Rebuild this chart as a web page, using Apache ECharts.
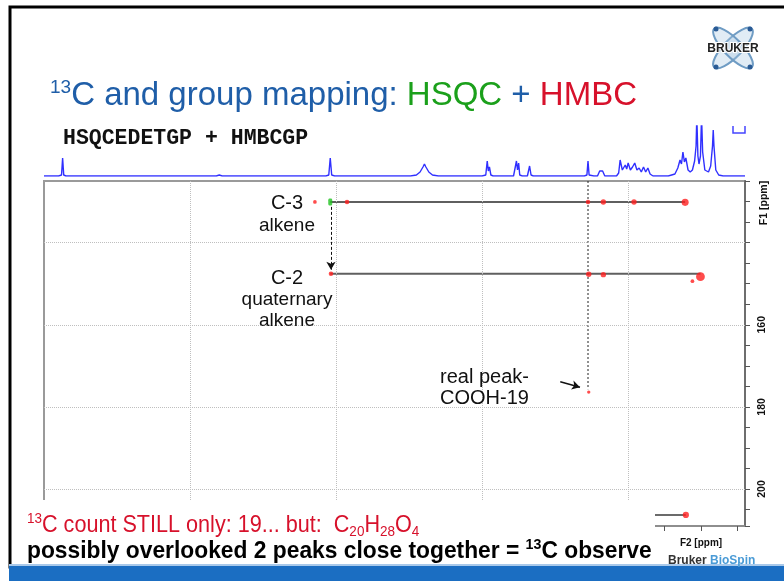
<!DOCTYPE html>
<html>
<head>
<meta charset="utf-8">
<script src="https://cdn.jsdelivr.net/npm/echarts@6/dist/echarts.min.js"></script>
<style>
  html, body { margin: 0; padding: 0; background: #ffffff; }
  #chart { width: 784px; height: 581px; }
</style>
</head>
<body>
<div id="chart"></div>
<script>
// ---- axis ranges and tick values (ppm) ----
const f2Range = [0.4, 10.0];          // 1H dimension
const f1Range = [125, 209];           // 13C dimension
const f2GridLines = [8, 6, 4, 2];
const f1GridLines = [140, 160, 180, 200];
const f1TickLabels = [160, 180, 200];
const f2Ticks = [0.5, 1.0, 1.5, 2.0, 2.5, 3.0, 3.5, 4.0, 4.5, 5.0, 5.5, 6.0, 6.5, 7.0, 7.5, 8.0, 8.5, 9.0, 9.5];

// ---- 1H projection: [ppm, height] ----
const protonTrace = [
  [10.00, 0], [9.80, 0], [9.76, 1], [9.745, 18], [9.73, 1], [9.70, 0],
  [8.60, 0], [7.64, 0], [7.60, 1], [7.56, 0],
  [6.14, 0], [6.10, 1], [6.08, 18], [6.06, 1], [6.02, 0],
  [4.98, 0], [4.90, 1], [4.85, 4], [4.81, 9], [4.79, 12], [4.77, 9], [4.73, 4], [4.68, 1], [4.60, 0],
  [4.00, 0], [3.95, 1], [3.93, 15], [3.915, 5], [3.90, 9], [3.88, 1], [3.85, 0],
  [3.57, 0], [3.545, 1], [3.53, 15], [3.515, 6], [3.50, 13], [3.485, 1], [3.45, 0],
  [3.38, 0], [3.35, 10], [3.33, 1], [3.30, 0],
  [2.60, 0], [2.565, 1], [2.55, 15], [2.535, 1], [2.47, 0],
  [2.42, 0], [2.39, 5], [2.37, 6], [2.35, 5], [2.32, 0],
  [2.16, 0], [2.13, 3], [2.11, 16], [2.08, 6], [2.04, 11], [2.02, 7], [2.00, 13], [1.97, 6],
  [1.94, 9], [1.91, 13], [1.88, 6], [1.85, 8], [1.82, 4], [1.79, 9], [1.76, 4], [1.73, 8], [1.70, 2], [1.66, 0],
  [1.45, 0], [1.36, 2], [1.32, 8], [1.29, 16], [1.27, 12], [1.25, 24], [1.23, 14], [1.21, 18], [1.18, 6],
  [1.15, 4], [1.12, 6], [1.09, 15], [1.07, 30], [1.06, 60], [1.045, 20], [1.03, 12], [1.01, 20], [0.995, 60],
  [0.98, 24], [0.95, 6], [0.90, 4], [0.87, 10], [0.845, 30], [0.835, 46], [0.825, 30], [0.80, 6], [0.76, 1],
  [0.70, 0], [0.40, 0]
];

// ---- 2D cross peaks: [F2 ppm, F1 ppm] / [F2 ppm, F1 ppm, relative intensity] ----
const hsqcPeaks = [[6.08, 130.1]];
const hmbcPeaks = [
  [6.29, 130.1, 1], [5.85, 130.1, 1.5], [2.55, 130.1, 1.5], [2.34, 130.1, 2], [1.92, 130.1, 2], [1.22, 130.2, 3],
  [6.07, 147.6, 1.5], [2.54, 147.7, 2], [2.34, 147.8, 2], [1.01, 148.3, 4], [1.12, 149.4, 1],
  [2.54, 176.4, 0.8],
  [1.21, 206.3, 2.5]
];

// ---- correlation traces drawn across each carbon row ----
const rowC3 = [[6.08, 130.1], [1.22, 130.1]];
const rowC2 = [[6.08, 147.6], [1.01, 147.6]];
const rowLow = [[6.08, 206.3], [1.21, 206.3]];
const coohTrace = [[2.55, 125], [2.55, 175.7]];
const c3ToC2Arrow = [[6.07, 131.3], [6.07, 146.6]];
const coohPointer = [[2.93, 173.9], [2.66, 175.2]];

const chart = echarts.init(document.getElementById('chart'), null, { renderer: 'canvas' });

const sans = 'Liberation Sans, Arial, Helvetica, sans-serif';
const titleBlue = '#1f5ea8';

function txt(x, y, text, extra) {
  return {
    type: 'text', x: x, y: y, z: 60,
    style: Object.assign({ text: text, fill: '#111', font: '19px ' + sans, align: 'center', verticalAlign: 'middle' }, extra || {})
  };
}

const graphics = [
  // slide frame
  { type: 'rect', z: 40, shape: { x: 10, y: 7, width: 790, height: 560 }, style: { fill: 'none', stroke: '#000', lineWidth: 3 } },
  // white caption box over the lower part of the plot
  { type: 'rect', z: 50, shape: { x: 12, y: 500, width: 643, height: 64 }, style: { fill: '#fff' } },
  // bottom colour bar
  { type: 'rect', z: 55, shape: { x: 9, y: 566, width: 780, height: 16 }, style: { fill: '#1b6ec2' } },
  { type: 'rect', z: 55, shape: { x: 9, y: 564, width: 780, height: 2 }, style: { fill: '#a9c9ea' } },
  // title
  { type: 'text', x: 50, y: 96, z: 60, style: {
      text: '{s|13}{b|C and group mapping: }{g|HSQC}{b| + }{r|HMBC}',
      verticalAlign: 'middle', align: 'left',
      rich: {
        s: { fontSize: 19, fontFamily: sans, fill: titleBlue, verticalAlign: 'top', lineHeight: 30 },
        b: { fontSize: 33, fontFamily: sans, fill: titleBlue, lineHeight: 36 },
        g: { fontSize: 33, fontFamily: sans, fill: '#1ba01b', lineHeight: 36 },
        r: { fontSize: 33, fontFamily: sans, fill: '#d7112b', lineHeight: 36 }
      }
  } },
  txt(63, 139, 'HSQCEDETGP + HMBCGP', { font: 'bold 21.5px Liberation Mono, Courier New, monospace', align: 'left' }),
  // peak annotations
  txt(287, 203, 'C-3', { font: '20px ' + sans }),
  txt(287, 226, 'alkene'),
  txt(287, 278, 'C-2', { font: '20px ' + sans }),
  txt(287, 300, 'quaternary'),
  txt(287, 321, 'alkene'),
  txt(440, 377, 'real peak-', { align: 'left', font: '20px ' + sans }),
  txt(440, 398, 'COOH-19', { align: 'left', font: '20px ' + sans }),
  // caption lines
  { type: 'text', x: 27, y: 525, z: 60, scaleX: 0.9, style: {
      text: '{s|13}{m|C count STILL only: 19... but:  C}{d|20}{m|H}{d|28}{m|O}{d|4}',
      verticalAlign: 'middle', align: 'left',
      rich: {
        m: { fontSize: 24, fontFamily: sans, fill: '#d7112b', lineHeight: 28 },
        s: { fontSize: 15, fontFamily: sans, fill: '#d7112b', verticalAlign: 'top', lineHeight: 22 },
        d: { fontSize: 15, fontFamily: sans, fill: '#d7112b', verticalAlign: 'bottom', lineHeight: 13 }
      }
  } },
  { type: 'text', x: 27, y: 551, z: 60, scaleX: 0.95, style: {
      text: '{m|possibly overlooked 2 peaks close together = }{s|13}{m|C observe}',
      verticalAlign: 'middle', align: 'left',
      rich: {
        m: { fontSize: 24, fontWeight: 'bold', fontFamily: sans, fill: '#000', lineHeight: 28 },
        s: { fontSize: 15, fontWeight: 'bold', fontFamily: sans, fill: '#000', verticalAlign: 'top', lineHeight: 22 }
      }
  } },
  // axis names
  txt(701, 543, 'F2 [ppm]', { font: 'bold 10px ' + sans }),
  { type: 'text', x: 764, y: 203, z: 60, rotation: Math.PI / 2,
    style: { text: 'F1 [ppm]', font: 'bold 10.5px ' + sans, fill: '#111', align: 'center', verticalAlign: 'middle' } },
  // company footer
  { type: 'text', x: 668, y: 561, z: 60, style: {
      text: '{a|Bruker }{b|BioSpin}', verticalAlign: 'middle', align: 'left',
      rich: {
        a: { fontSize: 12, fontWeight: 'bold', fontFamily: sans, fill: '#333' },
        b: { fontSize: 12, fontWeight: 'bold', fontFamily: sans, fill: '#4a9bd6' }
      }
  } },
  // small bracket icon beside the projection
  { type: 'polyline', z: 60, shape: { points: [[733, 126], [733, 133], [745, 133], [745, 126]] },
    style: { stroke: '#4545ff', lineWidth: 1.5, fill: 'none' } },
  // logo: crossing orbits with the company name
  { type: 'ellipse', z: 60, x: 733, y: 48, rotation: 0.8, shape: { cx: 0, cy: 0, rx: 27, ry: 9 },
    style: { fill: 'rgba(170,200,225,0.35)', stroke: '#6f9cc4', lineWidth: 2 } },
  { type: 'ellipse', z: 60, x: 733, y: 48, rotation: -0.8, shape: { cx: 0, cy: 0, rx: 27, ry: 9 },
    style: { fill: 'rgba(170,200,225,0.35)', stroke: '#6f9cc4', lineWidth: 2 } },
  { type: 'circle', z: 61, shape: { cx: 716, cy: 29, r: 2.5 }, style: { fill: '#2a5b95' } },
  { type: 'circle', z: 61, shape: { cx: 750, cy: 67, r: 2.5 }, style: { fill: '#2a5b95' } },
  { type: 'circle', z: 61, shape: { cx: 750, cy: 29, r: 2.5 }, style: { fill: '#2a5b95' } },
  { type: 'circle', z: 61, shape: { cx: 716, cy: 67, r: 2.5 }, style: { fill: '#2a5b95' } },
  txt(733, 49, 'BRUKER', { font: 'bold 12px ' + sans, fill: '#222', stroke: '#fff', lineWidth: 2 })
];

function rowSeries(data, lineStyle, z) {
  return {
    type: 'line', xAxisIndex: 0, yAxisIndex: 0, data: data, symbol: 'none', silent: true,
    lineStyle: lineStyle, z: z || 3
  };
}

const option = {
  backgroundColor: '#ffffff',
  animation: false,
  grid: [
    { left: 44, top: 181, width: 701, height: 345, show: true, borderColor: '#9a9a9a', borderWidth: 2, backgroundColor: '#fff' },
    { left: 44, top: 126, width: 701, height: 50 }
  ],
  xAxis: [
    {
      gridIndex: 0, type: 'value', min: f2Range[0], max: f2Range[1], inverse: true, position: 'bottom',
      axisLine: { show: true, lineStyle: { color: '#8a8a8a', width: 1.5 } },
      axisTick: { show: true, customValues: f2Ticks, length: 5, lineStyle: { color: '#555' } },
      axisLabel: { show: false }, splitLine: { show: false }
    },
    {
      gridIndex: 1, type: 'value', min: f2Range[0], max: f2Range[1], inverse: true, show: false
    }
  ],
  yAxis: [
    {
      gridIndex: 0, type: 'value', min: f1Range[0], max: f1Range[1], inverse: true, position: 'right',
      interval: 5,
      axisLine: { show: true, lineStyle: { color: '#6e6e6e', width: 2 } },
      axisTick: { show: true, length: 5, inside: false, lineStyle: { color: '#555' } },
      axisLabel: {
        show: true, rotate: 90, margin: 12, color: '#111', fontSize: 10.5, fontWeight: 'bold', fontFamily: sans,
        formatter: v => (f1TickLabels.indexOf(v) >= 0 ? String(v) : '')
      },
      splitLine: { show: false }
    },
    { gridIndex: 1, type: 'value', min: 0, max: 50, show: false }
  ],
  graphic: graphics,
  series: [
    // light dotted reference grid
    {
      type: 'line', xAxisIndex: 0, yAxisIndex: 0, data: [], symbol: 'none', silent: true, z: 1,
      markLine: {
        silent: true, symbol: 'none', label: { show: false },
        lineStyle: { type: 'dotted', color: '#bfbfbf', width: 1 },
        data: f2GridLines.map(v => ({ xAxis: v })).concat(f1GridLines.map(v => ({ yAxis: v })))
      }
    },
    // 1H projection
    {
      type: 'line', xAxisIndex: 1, yAxisIndex: 1, data: protonTrace, symbol: 'none', silent: true,
      lineStyle: { color: '#3030ff', width: 1.4 }, clip: true
    },
    rowSeries(rowC3, { color: '#5f5f5f', width: 2 }),
    rowSeries(rowC2, { color: '#5f5f5f', width: 2 }),
    rowSeries(rowLow, { color: '#3a3a3a', width: 1.5 }),
    rowSeries(coohTrace, { color: '#222', width: 1, type: [2, 2] }),
    // arrows
    {
      type: 'line', xAxisIndex: 0, yAxisIndex: 0, data: [], symbol: 'none', silent: true, z: 4,
      markLine: {
        silent: true, label: { show: false }, symbol: ['none', 'arrow'], symbolSize: [7, 8],
        data: [
          [{ coord: c3ToC2Arrow[0], lineStyle: { type: [3, 2], color: '#111', width: 1 } }, { coord: c3ToC2Arrow[1] }],
          [{ coord: coohPointer[0], lineStyle: { type: 'solid', color: '#111', width: 1.5 } }, { coord: coohPointer[1] }]
        ]
      }
    },
    // HMBC cross peaks
    {
      type: 'scatter', xAxisIndex: 0, yAxisIndex: 0, data: hmbcPeaks, z: 5, silent: true,
      symbol: 'circle', symbolSize: v => 2 + 1.7 * v[2],
      itemStyle: { color: '#ff1f1f' }
    },
    // HSQC cross peak
    {
      type: 'scatter', xAxisIndex: 0, yAxisIndex: 0, data: hsqcPeaks, z: 6, silent: true,
      symbol: 'roundRect', symbolSize: [4, 7],
      itemStyle: { color: '#1fc21f' }
    }
  ]
};

chart.setOption(option);
</script>
</body>
</html>
